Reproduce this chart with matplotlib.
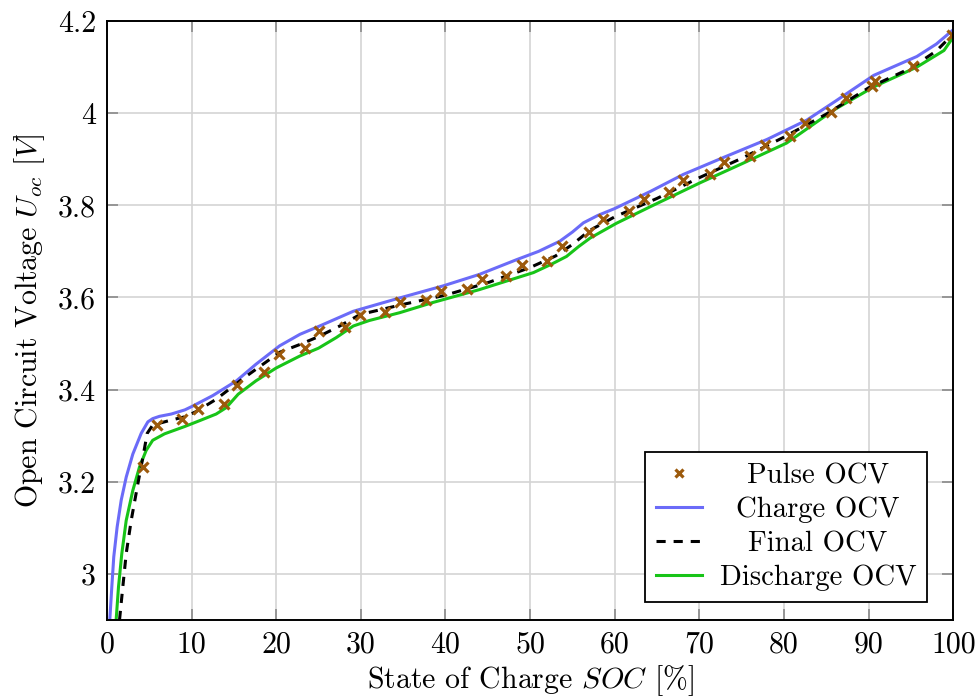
import matplotlib
matplotlib.use("Agg")
import matplotlib.pyplot as plt
from matplotlib.transforms import Affine2D

plt.rcParams["font.family"] = "serif"
plt.rcParams["font.serif"] = ["cmr10"]
plt.rcParams["mathtext.fontset"] = "cm"
plt.rcParams["axes.unicode_minus"] = False
plt.rcParams["axes.formatter.use_mathtext"] = True

# Pulse OCV measurements
pulse_soc = [4.2, 5.9, 8.9, 10.7, 13.8, 15.4, 18.6, 20.3, 23.4, 25.1, 28.1, 29.9,
             32.9, 34.6, 37.7, 39.5, 42.5, 44.3, 47.2, 49.0, 52.0, 53.8, 56.9, 58.6,
             61.7, 63.4, 66.4, 68.1, 71.2, 72.9, 76.0, 77.8, 80.7, 82.5, 85.5, 87.3,
             90.4, 90.7, 95.2, 99.8]
pulse_ocv = [3.232, 3.323, 3.336, 3.358, 3.369, 3.410, 3.438, 3.477, 3.491, 3.527,
             3.536, 3.563, 3.569, 3.590, 3.594, 3.614, 3.619, 3.641, 3.646, 3.671,
             3.680, 3.711, 3.742, 3.771, 3.788, 3.814, 3.828, 3.855, 3.868, 3.893,
             3.907, 3.931, 3.951, 3.979, 4.003, 4.032, 4.059, 4.069, 4.103, 4.170]

# Charge OCV curve
charge_soc = [0.33, 0.57, 0.8, 1.2, 1.68, 2.27, 3.05, 4.04, 4.83, 5.4, 6.2, 7.6,
              9.2, 10.1, 12.5, 15.3, 17.6, 20.4, 22.8, 25.0, 29.1, 34.6, 39.7, 44.0,
              48.4, 51.0, 53.5, 55.0, 56.3, 58.0, 60.0, 64.2, 68.1, 73.0, 78.0, 82.7,
              86.0, 90.6, 95.7, 98.0, 100.0]
charge_ocv = [2.900, 2.972, 3.037, 3.102, 3.160, 3.210, 3.260, 3.305, 3.330, 3.337,
              3.342, 3.347, 3.356, 3.364, 3.387, 3.419, 3.455, 3.495, 3.520, 3.537,
              3.570, 3.599, 3.625, 3.650, 3.682, 3.700, 3.722, 3.742, 3.762, 3.778,
              3.793, 3.830, 3.867, 3.905, 3.943, 3.985, 4.025, 4.082, 4.123, 4.150,
              4.181]

# Final OCV curve
final_soc = [1.48, 1.87, 2.27, 2.86, 3.64, 4.23, 4.75, 5.4, 7.6, 9.2, 10.5, 12.9,
             16.0, 20.4, 22.8, 25.0, 27.5, 29.9, 35.0, 40.0, 45.0, 50.0, 53.0, 55.0,
             57.0, 60.0, 65.0, 70.0, 75.0, 80.0, 85.0, 90.0, 95.0, 98.0, 100.0]
final_ocv = [2.900, 2.972, 3.044, 3.116, 3.195, 3.252, 3.305, 3.323, 3.334, 3.341,
             3.352, 3.379, 3.423, 3.481, 3.498, 3.515, 3.538, 3.563, 3.585, 3.605,
             3.632, 3.665, 3.690, 3.715, 3.745, 3.775, 3.815, 3.860, 3.902, 3.948,
             3.998, 4.055, 4.098, 4.135, 4.172]

# Discharge OCV curve
discharge_soc = [1.08, 1.36, 1.75, 2.27, 3.05, 3.84, 4.63, 5.4, 6.8, 9.2, 11.0,
                 12.9, 14.1, 15.5, 17.6, 20.0, 22.8, 25.0, 27.1, 29.1, 31.0, 34.6,
                 38.5, 44.0, 50.4, 52.5, 54.3, 55.7, 57.1, 60.2, 64.2, 70.1, 75.0,
                 80.3, 85.9, 90.6, 95.7, 98.9, 100.0]
discharge_ocv = [2.900, 2.972, 3.044, 3.116, 3.181, 3.232, 3.268, 3.290, 3.304,
                 3.320, 3.333, 3.347, 3.361, 3.390, 3.419, 3.447, 3.473, 3.490,
                 3.513, 3.538, 3.550, 3.567, 3.589, 3.617, 3.654, 3.672, 3.689,
                 3.710, 3.729, 3.761, 3.797, 3.849, 3.890, 3.935, 4.007, 4.057,
                 4.100, 4.136, 4.165]

xticks = [0, 10, 20, 30, 40, 50, 60, 70, 80, 90, 100]
xtick_labels = ["0", "10", "20", "30", "40", "50", "60", "70", "80", "90", "100"]
yticks = [3.0, 3.2, 3.4, 3.6, 3.8, 4.0, 4.2]
ytick_labels = ["3", "3.2", "3.4", "3.6", "3.8", "4", "4.2"]

fig = plt.figure(figsize=(9.78, 7.0), dpi=100)
ax = fig.add_axes([0.1094, 0.1143, 0.8653, 0.8557])

ax.plot(pulse_soc, pulse_ocv, linestyle="none", marker="x", markersize=7,
        markeredgewidth=2.3, color="#9c5a0c", label="Pulse OCV", zorder=5)
ax.plot(charge_soc, charge_ocv, color="#6b6bf8", lw=2.2, label="Charge OCV", zorder=3)
ax.plot(final_soc, final_ocv, color="black", lw=2.2, linestyle=(0, (3.0, 2.6)),
        label="Final OCV", zorder=4)
ax.plot(discharge_soc, discharge_ocv, color="#18c418", lw=2.2,
        label="Discharge OCV", zorder=3)

ax.set_xlim(0, 100)
ax.set_ylim(2.9, 4.2)
ax.set_xticks(xticks)
ax.set_xticklabels(xtick_labels)
ax.set_yticks(yticks)
ax.set_yticklabels(ytick_labels)
ax.tick_params(direction="in", top=True, right=True, length=8, width=1.2,
               color="#8a8a8a", labelsize=21.5, pad=8)
ax.grid(True, color="#d4d4d4", lw=1.2)
ax.set_axisbelow(True)
for sp in ax.spines.values():
    sp.set_linewidth(1.4)
    sp.set_zorder(6)

ax.set_xlabel(r"State of Charge $SOC$ [%]", fontsize=21.5, labelpad=3)
ax.set_ylabel(r"Open Circuit Voltage $U_{oc}$ $[V]$", fontsize=21.5, labelpad=8)

leg = ax.legend(loc="lower right", bbox_to_anchor=(0.9693, 0.030), borderaxespad=0,
                fontsize=20.7, fancybox=False, edgecolor="black", framealpha=1,
                handlelength=1.6, handletextpad=0.6, labelspacing=0.26,
                borderpad=0.38, markerscale=0.75)
leg.get_frame().set_linewidth(1.3)
leg.set_zorder(10)

# center legend labels within their column
fig.canvas.draw()
r = fig.canvas.get_renderer()
widths = [t.get_window_extent(r).width for t in leg.get_texts()]
wmax = max(widths)
for t, w in zip(leg.get_texts(), widths):
    t.set_transform(t.get_transform() + Affine2D().translate((wmax - w) / 2, 0))

fig.savefig("out.png", dpi=100)
